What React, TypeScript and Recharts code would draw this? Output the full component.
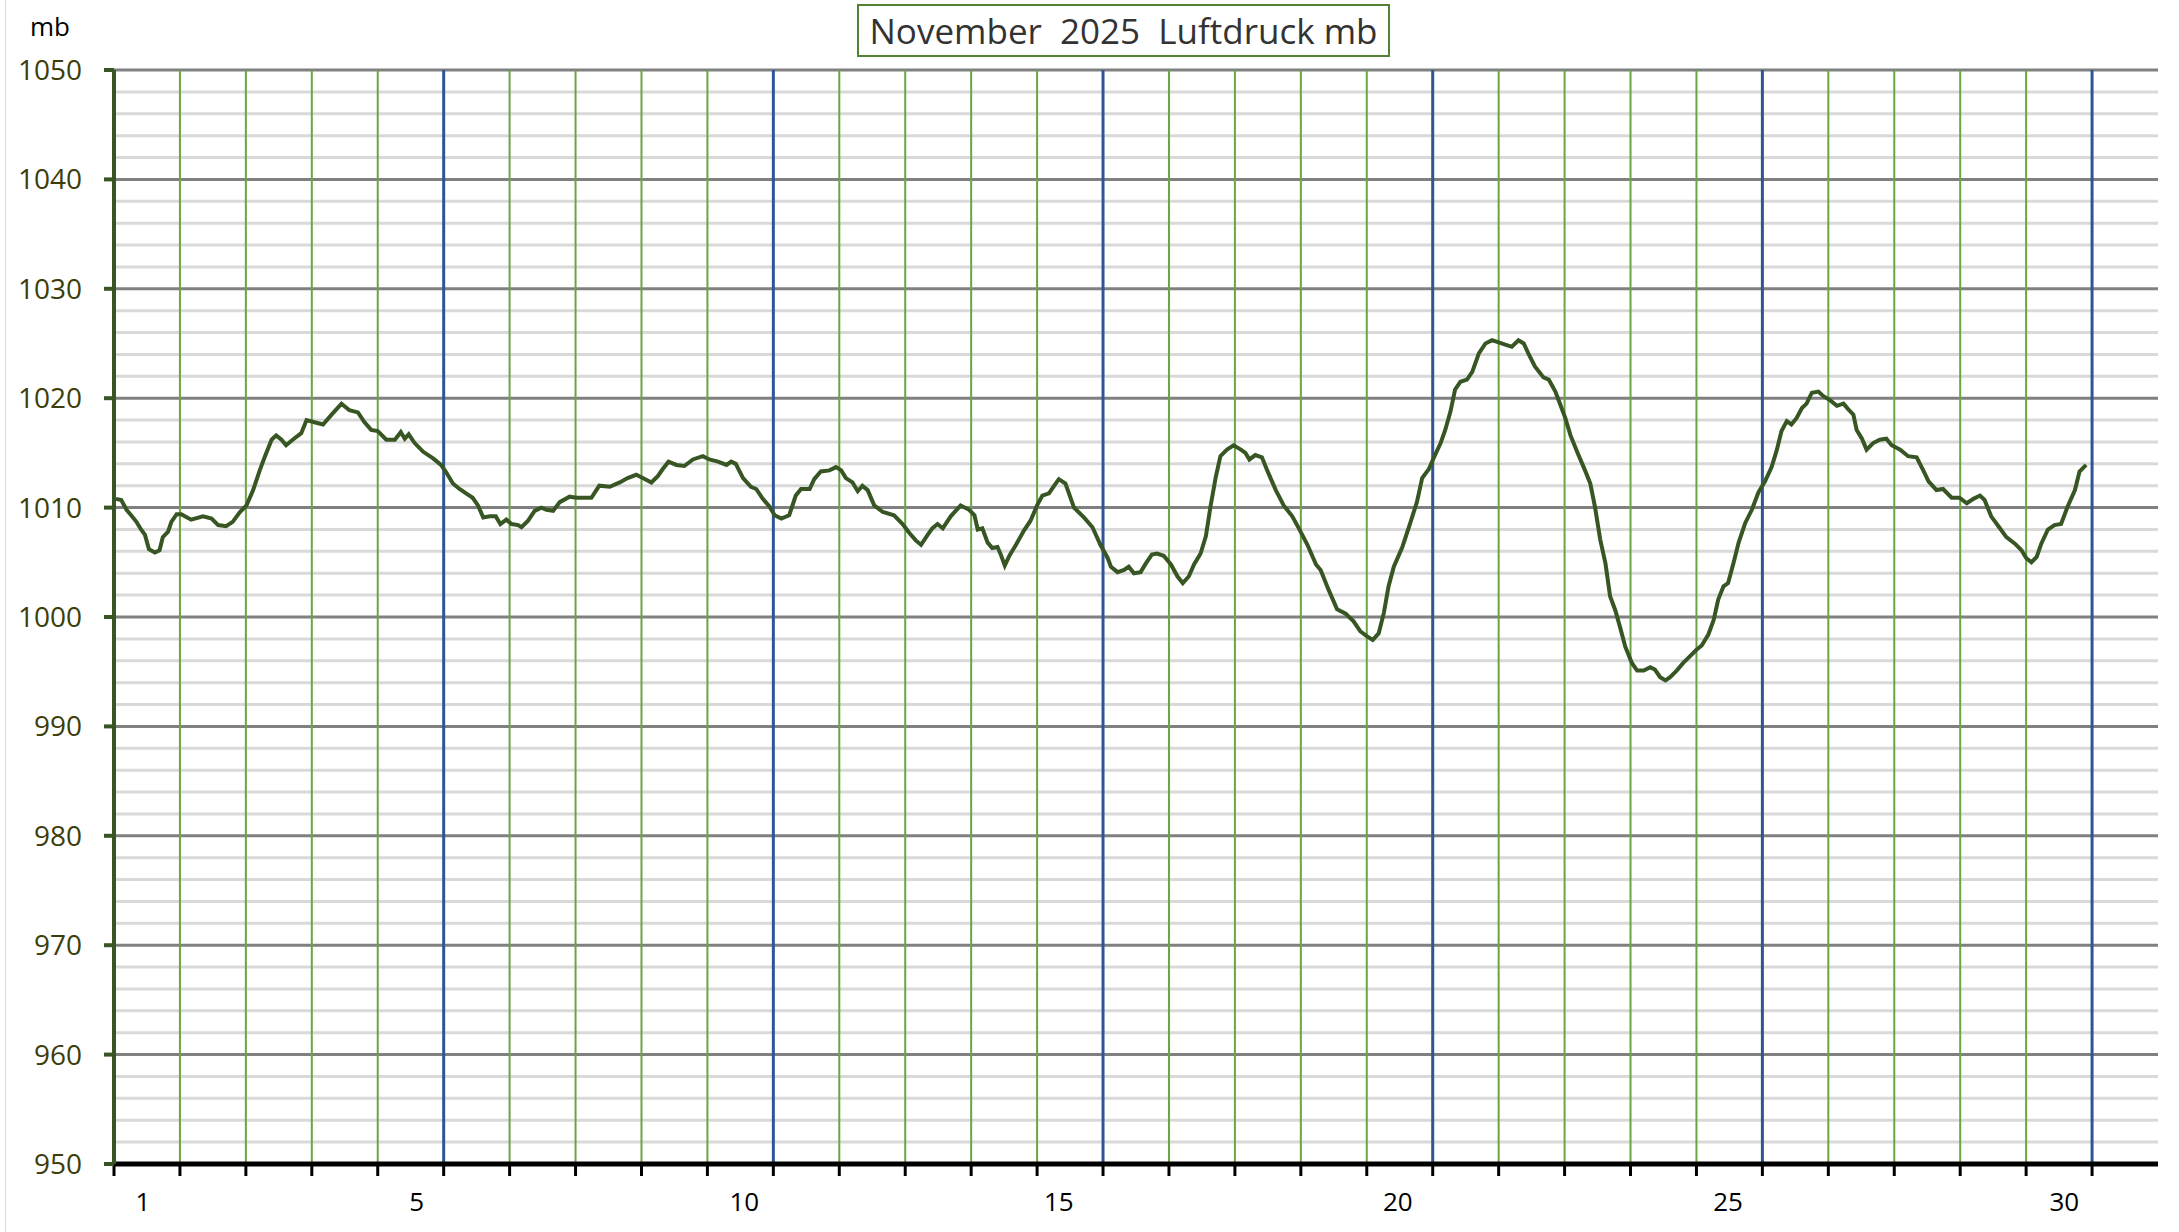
import { LineChart, Line, XAxis, YAxis, ReferenceLine } from 'recharts';

// Tag im Monat (0 = Beginn 1. November)
const dayPos = [
  0.03, 0.11, 0.19, 0.26, 0.34, 0.41, 0.47, 0.53, 0.62, 0.69, 0.74, 0.82, 0.87, 0.95,
  1.02, 1.17, 1.35, 1.48, 1.58, 1.7, 1.8, 1.91, 2.01, 2.11, 2.21, 2.29, 2.39, 2.46,
  2.54, 2.61, 2.71, 2.84, 2.92, 3.04, 3.17, 3.3, 3.45, 3.57, 3.7, 3.8, 3.9, 4.0,
  4.13, 4.26, 4.35, 4.41, 4.47, 4.56, 4.69, 4.84, 4.96,
  5.04, 5.14, 5.24, 5.34, 5.44, 5.52, 5.6, 5.7, 5.79, 5.86, 5.95, 6.03, 6.13, 6.18,
  6.28, 6.38, 6.48, 6.56, 6.66, 6.76, 6.91, 7.01, 7.11, 7.24, 7.36, 7.52, 7.67, 7.79,
  7.92, 8.02, 8.15, 8.25, 8.32, 8.41, 8.53, 8.65, 8.78, 8.93, 9.03, 9.16, 9.29, 9.36,
  9.43, 9.54, 9.66, 9.74, 9.84, 9.94,
  10.02, 10.12, 10.24, 10.34, 10.42, 10.55, 10.62, 10.72, 10.85, 10.95, 11.03, 11.1,
  11.2, 11.28, 11.35, 11.43, 11.53, 11.66, 11.83, 11.96, 12.06, 12.16, 12.24, 12.34,
  12.41, 12.49, 12.57, 12.69, 12.84, 12.97, 13.05, 13.1, 13.17, 13.25, 13.32, 13.4,
  13.45, 13.51, 13.58, 13.68, 13.8, 13.9, 14.0, 14.08, 14.18, 14.26, 14.33, 14.43,
  14.56, 14.71, 14.84, 14.96,
  15.07, 15.12, 15.22, 15.32, 15.39, 15.47, 15.57, 15.65, 15.74, 15.82, 15.92, 16.03,
  16.13, 16.21, 16.3, 16.38, 16.48, 16.56, 16.63, 16.71, 16.78, 16.88, 16.98, 17.09,
  17.16, 17.22, 17.31, 17.41, 17.49, 17.62, 17.74, 17.87, 17.97, 18.1, 18.23, 18.3,
  18.42, 18.55, 18.68, 18.8, 18.9, 19.01, 19.09, 19.18, 19.26, 19.33, 19.41, 19.54,
  19.66, 19.76, 19.84, 19.94,
  20.02, 20.12, 20.19, 20.27, 20.34, 20.42, 20.52, 20.6, 20.7, 20.8, 20.9, 21.0,
  21.1, 21.2, 21.3, 21.38, 21.45, 21.55, 21.68, 21.76, 21.86, 21.93, 22.01, 22.09,
  22.19, 22.31, 22.39, 22.46, 22.54, 22.62, 22.69, 22.77, 22.84, 22.92, 23.02, 23.1,
  23.2, 23.3, 23.37, 23.45, 23.53, 23.6, 23.7, 23.8, 23.9, 24.0, 24.08, 24.18, 24.26,
  24.33, 24.41, 24.48, 24.56, 24.64, 24.74, 24.84, 24.94, 25.04,
  25.14, 25.22, 25.29, 25.37, 25.44, 25.52, 25.6, 25.67, 25.75, 25.85, 25.92, 26.03,
  26.13, 26.23, 26.3, 26.38, 26.43, 26.51, 26.58, 26.68, 26.78, 26.88, 26.96, 27.09,
  27.21, 27.34, 27.44, 27.52, 27.64, 27.74, 27.87, 27.99, 28.1, 28.2, 28.3, 28.37,
  28.47, 28.58, 28.7, 28.83, 28.93, 29.0, 29.08, 29.16, 29.23, 29.33, 29.43, 29.53,
  29.63, 29.74, 29.81, 29.91,
];

// Luftdruck in mb
const luftdruck = [
  1010.8, 1010.7, 1009.8, 1009.3, 1008.7, 1008.0, 1007.5, 1006.2, 1005.9, 1006.1, 1007.3, 1007.8, 1008.7, 1009.4,
  1009.4, 1008.9, 1009.2, 1009.0, 1008.4, 1008.3, 1008.7, 1009.6, 1010.2, 1011.6, 1013.4, 1014.7, 1016.2, 1016.6,
  1016.2, 1015.7, 1016.2, 1016.8, 1018.0, 1017.8, 1017.6, 1018.5, 1019.5, 1018.9, 1018.7, 1017.8, 1017.1, 1017.0,
  1016.2, 1016.2, 1016.9, 1016.3, 1016.7, 1015.9, 1015.1, 1014.5, 1013.9,
  1013.2, 1012.2, 1011.7, 1011.3, 1010.9, 1010.2, 1009.1, 1009.2, 1009.2, 1008.5, 1008.9, 1008.5, 1008.4, 1008.2,
  1008.8, 1009.7, 1010.0, 1009.8, 1009.7, 1010.5, 1011.0, 1010.9, 1010.9, 1010.9, 1012.0, 1011.9, 1012.3, 1012.7,
  1013.0, 1012.7, 1012.3, 1012.9, 1013.5, 1014.2, 1013.9, 1013.8, 1014.4, 1014.7, 1014.4, 1014.2, 1013.9, 1014.2,
  1014.0, 1012.7, 1011.9, 1011.7, 1010.8, 1010.1,
  1009.3, 1009.0, 1009.3, 1011.1, 1011.7, 1011.7, 1012.6, 1013.3, 1013.4, 1013.7, 1013.4, 1012.7,
  1012.3, 1011.5, 1012.0, 1011.6, 1010.2, 1009.6, 1009.3, 1008.5, 1007.7, 1007.0, 1006.6, 1007.5,
  1008.1, 1008.5, 1008.1, 1009.2, 1010.2, 1009.8, 1009.3, 1008.0, 1008.1, 1006.8, 1006.3, 1006.4,
  1005.7, 1004.7, 1005.6, 1006.6, 1007.9, 1008.8, 1010.2, 1011.1, 1011.3, 1012.0, 1012.6, 1012.2,
  1010.0, 1009.1, 1008.2, 1006.6,
  1005.4, 1004.6, 1004.1, 1004.3, 1004.6, 1004.0, 1004.1, 1004.9, 1005.7, 1005.8, 1005.6, 1004.8,
  1003.7, 1003.1, 1003.7, 1004.8, 1005.8, 1007.4, 1010.1, 1012.8, 1014.7, 1015.3, 1015.7, 1015.3,
  1015.0, 1014.4, 1014.8, 1014.6, 1013.4, 1011.6, 1010.2, 1009.2, 1008.1, 1006.6, 1004.8, 1004.3,
  1002.5, 1000.7, 1000.3, 999.6, 998.7, 998.2, 997.9, 998.5, 1000.4, 1002.8, 1004.6, 1006.4,
  1008.6, 1010.5, 1012.7, 1013.5,
  1014.6, 1015.9, 1017.1, 1018.8, 1020.8, 1021.5, 1021.7, 1022.4, 1024.1, 1025.0, 1025.3, 1025.1,
  1024.9, 1024.7, 1025.3, 1025.0, 1024.1, 1022.9, 1021.9, 1021.7, 1020.6, 1019.5, 1018.2, 1016.6,
  1015.1, 1013.4, 1012.2, 1010.1, 1007.1, 1004.9, 1001.9, 1000.6, 999.1, 997.3, 995.8, 995.1,
  995.1, 995.4, 995.2, 994.5, 994.2, 994.5, 995.1, 995.8, 996.4, 997.0, 997.4, 998.4, 999.7,
  1001.6, 1002.8, 1003.1, 1004.9, 1006.8, 1008.6, 1009.8, 1011.4, 1012.4,
  1013.7, 1015.3, 1017.0, 1017.9, 1017.6, 1018.2, 1019.1, 1019.5, 1020.5, 1020.6, 1020.2, 1019.8,
  1019.3, 1019.5, 1019.0, 1018.5, 1017.1, 1016.3, 1015.3, 1015.9, 1016.2, 1016.3, 1015.7, 1015.3,
  1014.7, 1014.6, 1013.4, 1012.4, 1011.6, 1011.7, 1010.9, 1010.9, 1010.4, 1010.8, 1011.1, 1010.7,
  1009.2, 1008.3, 1007.3, 1006.7, 1006.1, 1005.4, 1005.0, 1005.5, 1006.7, 1008.0, 1008.4, 1008.5,
  1010.1, 1011.6, 1013.3, 1013.9,
];

// Achsen
const dayLabels = ['1', '5', '10', '15', '20', '25', '30'];
const dayLabelAt = [0.44, 4.59, 9.56, 14.33, 19.47, 24.48, 29.58];
const dayLines = Array.from({ length: 30 }, (_, i) => i + 1);
const dayTicks = Array.from({ length: 31 }, (_, i) => i);
const mbTicks = [950, 960, 970, 980, 990, 1000, 1010, 1020, 1030, 1040, 1050];
const mbMinor = Array.from({ length: 50 }, (_, i) => 950 + i * 2).filter((v) => v % 10 !== 0);

const rows = dayPos.map((day, i) => ({ day, mb: luftdruck[i] }));

const FONT = '"Open Sans", sans-serif';

const NoLabel = () => <g />;

export default function App() {
  return (
    <div style={{ position: 'absolute', left: 0, top: 0, width: 2179, height: 1232, background: '#fff', overflow: 'hidden', fontFamily: FONT }}>
      <div style={{ position: 'absolute', left: 5, top: 0, width: 1, height: 1232, background: '#d9d9d9' }} />
      <LineChart width={2179} height={1232} data={rows} margin={{ top: 70, right: 21, bottom: 0, left: 0 }}>
        {mbMinor.map((v) => (
          <ReferenceLine key={'n' + v} xAxisId="d" y={v} stroke="#d9d9d9" strokeWidth={3} />
        ))}
        {mbTicks.slice(1).map((v) => (
          <ReferenceLine key={'m' + v} xAxisId="d" y={v} stroke="#808080" strokeWidth={3} />
        ))}
        {dayLines.map((d) => (
          <ReferenceLine
            key={'d' + d}
            xAxisId="d"
            x={d}
            stroke={d % 5 === 0 ? '#2f5597' : '#6aa544'}
            strokeWidth={d % 5 === 0 ? 3 : 2}
          />
        ))}
        <Line
          xAxisId="d"
          type="linear"
          dataKey="mb"
          stroke="#375623"
          strokeWidth={4}
          dot={false}
          isAnimationActive={false}
        />
        <XAxis
          xAxisId="d"
          dataKey="day"
          type="number"
          domain={[0, 31]}
          ticks={dayTicks}
          interval={0}
          height={1}
          tick={NoLabel}
          tickSize={12}
          axisLine={{ stroke: '#000', strokeWidth: 5 }}
          tickLine={{ stroke: '#000', strokeWidth: 3 }}
          allowDataOverflow
        />
        <XAxis
          xAxisId="lbl"
          dataKey="day"
          type="number"
          domain={[0, 31]}
          ticks={dayLabelAt}
          interval={0}
          height={67}
          axisLine={false}
          tickLine={false}
          tickSize={0}
          tickMargin={28}
          tickFormatter={(v: number) => dayLabels[dayLabelAt.indexOf(v)]}
          tick={{ fill: '#000', fontSize: 26, fontFamily: FONT }}
          allowDataOverflow
        />
        <YAxis
          type="number"
          domain={[950, 1050]}
          ticks={mbTicks}
          interval={0}
          width={114}
          tickSize={10}
          tickMargin={22}
          axisLine={{ stroke: '#375623', strokeWidth: 4 }}
          tickLine={{ stroke: '#375623', strokeWidth: 4 }}
          tick={{ fill: '#3d3d0c', fontSize: 28, fontFamily: FONT }}
          allowDataOverflow
        />
      </LineChart>
      <div style={{ position: 'absolute', left: 30, top: 6, fontSize: 26, color: '#000', lineHeight: '40px' }}>mb</div>
      <div
        style={{
          position: 'absolute',
          left: 857,
          top: 4,
          width: 529,
          height: 49,
          border: '2px solid #548235',
          color: '#333',
          fontSize: 35,
          lineHeight: '49px',
          textAlign: 'center',
          whiteSpace: 'pre',
          background: '#fff',
        }}
      >
        {'November  2025  Luftdruck mb'}
      </div>
    </div>
  );
}
